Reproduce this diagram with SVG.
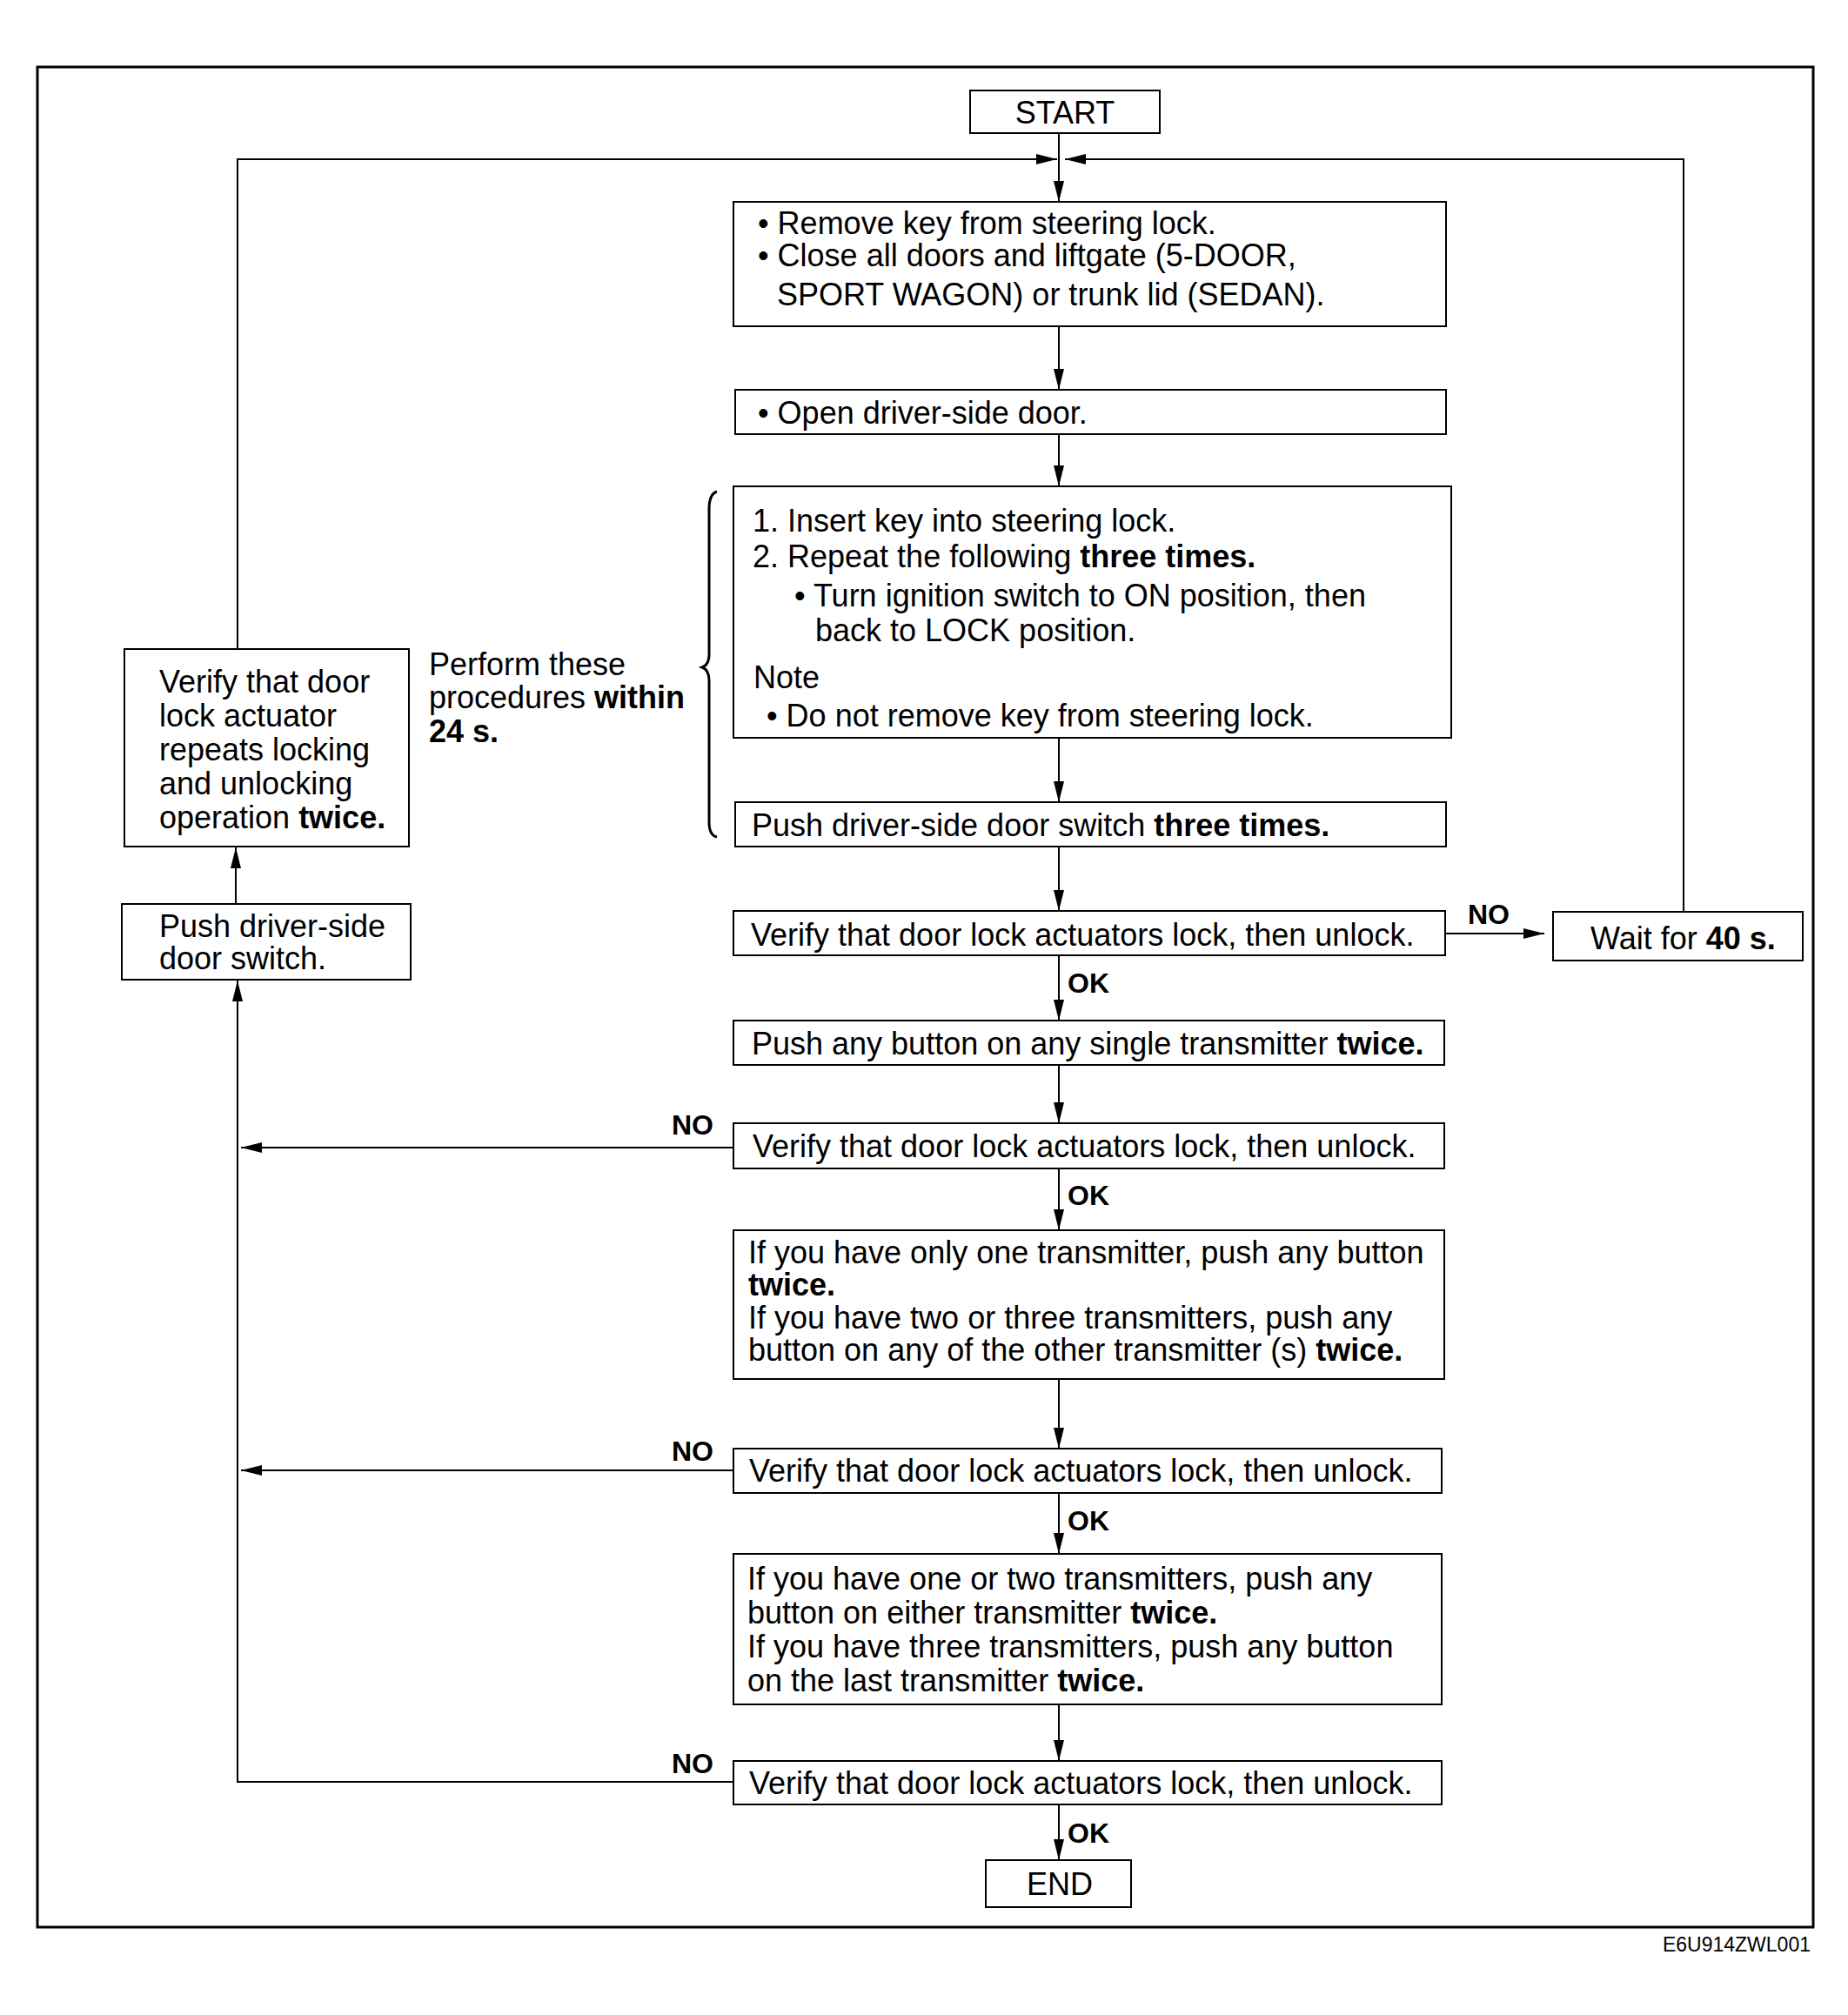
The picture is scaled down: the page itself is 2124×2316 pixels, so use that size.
<svg xmlns="http://www.w3.org/2000/svg" width="2124" height="2316" viewBox="0 0 2124 2316">
<style>
.box{fill:#fff;stroke:#000;stroke-width:2}
.ln{fill:none;stroke:#000;stroke-width:2}
.br{fill:none;stroke:#000;stroke-width:3}
.ar{fill:none;stroke:#000;stroke-width:2;marker-end:url(#ah)}
text{font-family:"Liberation Sans",Arial,sans-serif;font-size:36px;fill:#000}
.b{font-weight:bold}
.lbl{font-weight:bold;font-size:32px}
.c{text-anchor:middle}
.code{font-size:23px;text-anchor:end}
</style>
<defs>
<marker id="ah" markerUnits="userSpaceOnUse" markerWidth="26" markerHeight="14" refX="24" refY="6" orient="auto">
<path d="M0,0 L24,6 L0,12 z" fill="#000"/>
</marker>
</defs>
<rect x="0" y="0" width="2124" height="2316" fill="#fff"/>
<rect id="frame" x="43" y="77" width="2041" height="2138" fill="none" stroke="#000" stroke-width="3"/>

<g id="connectors">
<line class="ar" x1="1217" y1="153" x2="1217" y2="232"/>
<polyline class="ar" points="273,746 273,183 1215,183"/>
<polyline class="ar" points="1935,1048 1935,183 1224,183"/>
<line class="ar" x1="1217" y1="375" x2="1217" y2="448"/>
<line class="ar" x1="1217" y1="499" x2="1217" y2="559"/>
<line class="ar" x1="1217" y1="848" x2="1217" y2="922"/>
<line class="ar" x1="1217" y1="973" x2="1217" y2="1047"/>
<line class="ar" x1="1661" y1="1073" x2="1775" y2="1073"/>
<line class="ar" x1="1217" y1="1098" x2="1217" y2="1173"/>
<line class="ar" x1="1217" y1="1224" x2="1217" y2="1291"/>
<line class="ar" x1="843" y1="1319" x2="277" y2="1319"/>
<line class="ar" x1="1217" y1="1343" x2="1217" y2="1414"/>
<line class="ar" x1="1217" y1="1585" x2="1217" y2="1665"/>
<line class="ar" x1="843" y1="1690" x2="277" y2="1690"/>
<line class="ar" x1="1217" y1="1716" x2="1217" y2="1786"/>
<line class="ar" x1="1217" y1="1959" x2="1217" y2="2024"/>
<polyline class="ar" points="843,2048 273,2048 273,1127"/>
<line class="ar" x1="271" y1="1039" x2="271" y2="974"/>
<line class="ar" x1="1217" y1="2074" x2="1217" y2="2138"/>
<path class="br" d="M824,565 Q815,568 815,585 L815,752 Q815,764 807,767 Q815,770 815,782 L815,945 Q815,960 824,962"/>
<text class="lbl" x="1687" y="1062">NO</text>
<text class="lbl" x="820" y="1304" style="text-anchor:end">NO</text>
<text class="lbl" x="820" y="1679" style="text-anchor:end">NO</text>
<text class="lbl" x="820" y="2038" style="text-anchor:end">NO</text>
<text class="lbl" x="1227" y="1141">OK</text>
<text class="lbl" x="1227" y="1385">OK</text>
<text class="lbl" x="1227" y="1759">OK</text>
<text class="lbl" x="1227" y="2118">OK</text>
</g>

<g id="start">
<rect class="box" x="1115" y="104" width="218" height="49"/>
<text class="c" x="1224" y="142">START</text>
</g>

<g id="n1">
<rect class="box" x="843" y="232" width="819" height="143"/>
<text x="871" y="269">• Remove key from steering lock.</text>
<text x="871" y="306">• Close all doors and liftgate (5-DOOR,</text>
<text x="893" y="351">SPORT WAGON) or trunk lid (SEDAN).</text>
</g>

<g id="n2">
<rect class="box" x="845" y="448" width="817" height="51"/>
<text x="871" y="487">• Open driver-side door.</text>
</g>

<g id="n3">
<rect class="box" x="843" y="559" width="825" height="289"/>
<text x="865" y="611">1. Insert key into steering lock.</text>
<text x="865" y="652">2. Repeat the following <tspan class="b">three times.</tspan></text>
<text x="913" y="697">• Turn ignition switch to ON position, then</text>
<text x="937" y="737">back to LOCK position.</text>
<text x="866" y="791">Note</text>
<text x="881" y="835">• Do not remove key from steering lock.</text>
</g>

<g id="n4">
<rect class="box" x="845" y="922" width="817" height="51"/>
<text x="864" y="961">Push driver-side door switch <tspan class="b">three times.</tspan></text>
</g>

<g id="n5">
<rect class="box" x="843" y="1047" width="818" height="51"/>
<text x="863" y="1087">Verify that door lock actuators lock, then unlock.</text>
</g>

<g id="wait">
<rect class="box" x="1785" y="1048" width="287" height="56"/>
<text x="1828" y="1091">Wait for <tspan class="b">40 s.</tspan></text>
</g>

<g id="n6">
<rect class="box" x="843" y="1173" width="817" height="51"/>
<text x="864" y="1212">Push any button on any single transmitter <tspan class="b">twice.</tspan></text>
</g>

<g id="n7">
<rect class="box" x="843" y="1291" width="817" height="52"/>
<text x="865" y="1330">Verify that door lock actuators lock, then unlock.</text>
</g>

<g id="n8">
<rect class="box" x="843" y="1414" width="817" height="171"/>
<text x="860" y="1452">If you have only one transmitter, push any button</text>
<text x="860" y="1489" class="b">twice.</text>
<text x="860" y="1527">If you have two or three transmitters, push any</text>
<text x="860" y="1564">button on any of the other transmitter (s) <tspan class="b">twice.</tspan></text>
</g>

<g id="n9">
<rect class="box" x="843" y="1665" width="814" height="51"/>
<text x="861" y="1703">Verify that door lock actuators lock, then unlock.</text>
</g>

<g id="n10">
<rect class="box" x="843" y="1786" width="814" height="173"/>
<text x="859" y="1827">If you have one or two transmitters, push any</text>
<text x="859" y="1866">button on either transmitter <tspan class="b">twice.</tspan></text>
<text x="859" y="1905">If you have three transmitters, push any button</text>
<text x="859" y="1944">on the last transmitter <tspan class="b">twice.</tspan></text>
</g>

<g id="n11">
<rect class="box" x="843" y="2024" width="814" height="50"/>
<text x="861" y="2062">Verify that door lock actuators lock, then unlock.</text>
</g>

<g id="end">
<rect class="box" x="1133" y="2138" width="167" height="54"/>
<text class="c" x="1218" y="2178">END</text>
</g>

<g id="verify-twice">
<rect class="box" x="143" y="746" width="327" height="227"/>
<text x="183" y="796">Verify that door</text>
<text x="183" y="835">lock actuator</text>
<text x="183" y="874">repeats locking</text>
<text x="183" y="913">and unlocking</text>
<text x="183" y="952">operation <tspan class="b">twice.</tspan></text>
</g>

<g id="push-door">
<rect class="box" x="140" y="1039" width="332" height="87"/>
<text x="183" y="1077">Push driver-side</text>
<text x="183" y="1114">door switch.</text>
</g>

<g id="note-24s">
<text x="493" y="776">Perform these</text>
<text x="493" y="814">procedures <tspan class="b">within</tspan></text>
<text x="493" y="853" class="b">24 s.</text>
</g>

<text class="code" x="2081" y="2243">E6U914ZWL001</text>
</svg>
